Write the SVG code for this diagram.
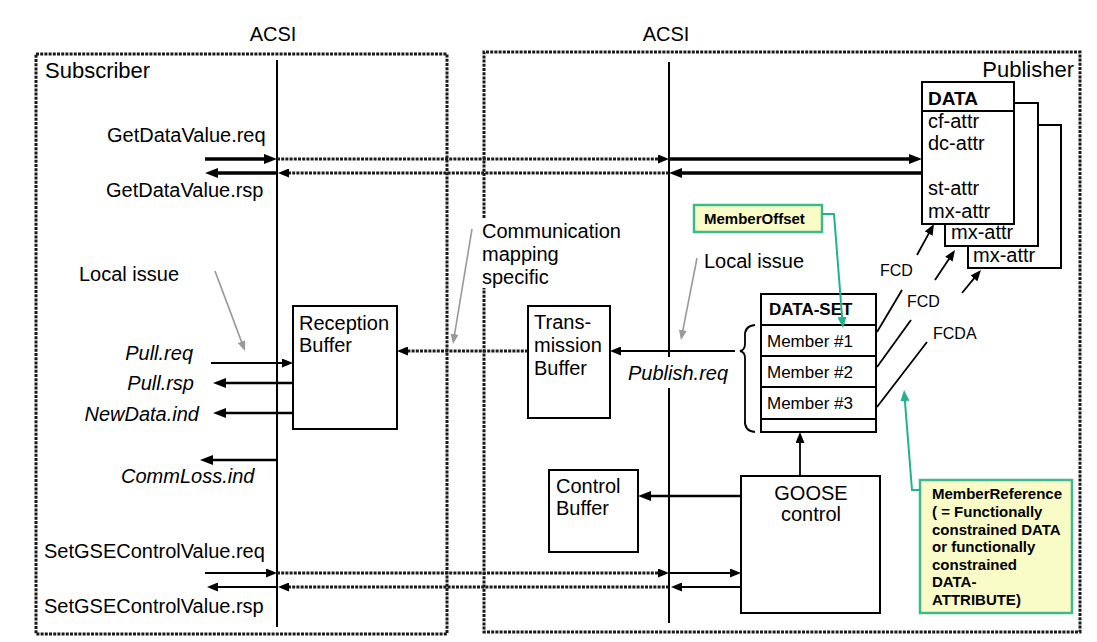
<svg xmlns="http://www.w3.org/2000/svg" width="1097" height="642" viewBox="0 0 1097 642">
<style>
.t{font-family:"Liberation Sans",Arial,sans-serif;font-size:20px;fill:#000}
.i{font-style:italic}
.b{font-weight:bold}
.s17{font-size:17px}
.s15{font-size:15px}
.s16{font-size:16px}
.s22{font-size:22px}
.mid{text-anchor:middle}
.end{text-anchor:end}
.box{fill:#fff;stroke:#000;stroke-width:2}
.note{fill:#fafcc8;stroke:#3cba8c;stroke-width:2.5}
.frame{fill:none;stroke:#1a1a1a;stroke-width:3;stroke-dasharray:3 1.2}
.dot{fill:none;stroke:#1a1a1a;stroke-width:3;stroke-dasharray:3 1.2}
.acsi{stroke:#000;stroke-width:2;fill:none}
.thick{stroke:#000;stroke-width:3.5;fill:none}
.med{stroke:#000;stroke-width:2.5;fill:none}
.thin{stroke:#000;stroke-width:1.8;fill:none}
.gray{stroke:#999;stroke-width:1.6;fill:none}
.green{stroke:#22b38a;stroke-width:2;fill:none}
</style>
<defs>
<marker id="ah" markerUnits="userSpaceOnUse" markerWidth="13" markerHeight="10" refX="5" refY="5" orient="auto"><path d="M0,0 L13,5 L0,10 z" fill="#000"/></marker>
<marker id="ahs" markerUnits="userSpaceOnUse" markerWidth="11" markerHeight="9" refX="4" refY="4.5" orient="auto"><path d="M0,0 L11,4.5 L0,9 z" fill="#000"/></marker>
<marker id="ahg" markerUnits="userSpaceOnUse" markerWidth="11" markerHeight="9" refX="4" refY="4.5" orient="auto"><path d="M0,0 L11,4.5 L0,9 z" fill="#22b38a"/></marker>
<marker id="ahgr" markerUnits="userSpaceOnUse" markerWidth="10" markerHeight="8" refX="3" refY="4" orient="auto"><path d="M0,0 L10,4 L0,8 z" fill="#999"/></marker>
</defs>
<rect width="1097" height="642" fill="#fff"/>

<g id="frames">
<rect class="frame" x="36" y="54" width="411" height="580"/>
<path class="frame" d="M484,218 L484,52 L1080,52 L1080,632 L484,632 L484,288"/>
<line class="acsi" x1="277" y1="60" x2="277" y2="627"/>
<line class="acsi" x1="669" y1="62" x2="669" y2="357"/>
<line class="acsi" x1="669" y1="388" x2="669" y2="623"/>
<text class="t mid" x="273" y="41">ACSI</text>
<text class="t mid" x="666" y="41">ACSI</text>
<text class="t s22" x="45" y="78">Subscriber</text>
<text class="t s22 end" x="1074" y="77">Publisher</text>
</g>

<g id="labels">
<text class="t" x="107" y="142">GetDataValue.req</text>
<text class="t" x="106" y="197">GetDataValue.rsp</text>
<text class="t" x="79" y="281">Local issue</text>
<text class="t i end" x="193" y="360">Pull.req</text>
<text class="t i end" x="194" y="390">Pull.rsp</text>
<text class="t i end" x="199" y="421">NewData.ind</text>
<text class="t i" x="121" y="483">CommLoss.ind</text>
<text class="t" x="44" y="558">SetGSEControlValue.req</text>
<text class="t" x="44" y="613">SetGSEControlValue.rsp</text>
<text class="t" x="482" y="238">Communication</text>
<text class="t" x="482" y="261">mapping</text>
<text class="t" x="482" y="284">specific</text>
<text class="t i" x="628" y="380">Publish.req</text>
<text class="t" x="704" y="268">Local issue</text>
<text class="t s16" x="880" y="276">FCD</text>
<text class="t s16" x="907" y="307">FCD</text>
<text class="t s16" x="933" y="339">FCDA</text>
</g>

<g id="reception-buffer">
<rect class="box" x="293" y="306" width="104" height="123"/>
<text class="t" x="299" y="330">Reception</text>
<text class="t" x="299" y="352">Buffer</text>
</g>

<g id="transmission-buffer">
<rect class="box" x="528" y="306" width="82" height="112"/>
<text class="t" x="534" y="329">Trans-</text>
<text class="t" x="534" y="352">mission</text>
<text class="t" x="534" y="375">Buffer</text>
</g>

<g id="control-buffer">
<rect class="box" x="549" y="470" width="89" height="82"/>
<text class="t" x="556" y="493">Control</text>
<text class="t" x="556" y="515">Buffer</text>
</g>

<g id="goose-control">
<rect class="box" x="741" y="476" width="139" height="137"/>
<text class="t mid" x="811" y="500">GOOSE</text>
<text class="t mid" x="811" y="521">control</text>
</g>

<g id="data-set">
<rect class="box" x="761" y="294" width="115" height="138"/>
<line class="thin" x1="761" y1="325" x2="876" y2="325"/>
<line class="thin" x1="761" y1="356" x2="876" y2="356"/>
<line class="thin" x1="761" y1="387" x2="876" y2="387"/>
<line class="thin" x1="761" y1="419" x2="876" y2="419"/>
<text class="t b s17" x="769" y="315">DATA-SET</text>
<text class="t s17" x="767" y="347">Member #1</text>
<text class="t s17" x="767" y="378">Member #2</text>
<text class="t s17" x="767" y="409">Member #3</text>
<path class="thin" d="M755,325 Q744,326 745,337 L745,344 Q745,350 740,351 Q745,352 745,358 L745,420 Q744,431 755,432"/>
</g>

<g id="data">
<rect class="box" x="968" y="125" width="93" height="143"/>
<text class="t" x="973" y="262">mx-attr</text>
<rect class="box" x="945" y="103" width="93" height="143"/>
<text class="t" x="951" y="239">mx-attr</text>
<rect class="box" x="922" y="82" width="92" height="142"/>
<line class="thin" x1="922" y1="111" x2="1014" y2="111"/>
<text class="t b" x="928" y="105" style="font-size:19px">DATA</text>
<text class="t" x="928" y="128">cf-attr</text>
<text class="t" x="928" y="150">dc-attr</text>
<text class="t" x="928" y="195">st-attr</text>
<text class="t" x="928" y="218">mx-attr</text>
</g>

<g id="member-offset">
<rect class="note" x="694" y="205" width="128" height="27"/>
<text class="t b s15" x="704" y="224">MemberOffset</text>
</g>

<g id="member-reference">
<rect class="note" x="920" y="480" width="152" height="133"/>
<text class="t b s15" x="932" y="499">MemberReference</text>
<text class="t b s15" x="932" y="517">( = Functionally</text>
<text class="t b s15" x="932" y="535">constrained DATA</text>
<text class="t b s15" x="932" y="552">or functionally</text>
<text class="t b s15" x="932" y="570">constrained</text>
<text class="t b s15" x="932" y="587">DATA-</text>
<text class="t b s15" x="932" y="605">ATTRIBUTE)</text>
</g>

<g id="connectors">
<line class="thick" x1="205" y1="159" x2="269" y2="159" marker-end="url(#ah)"/>
<line class="dot" x1="277" y1="159" x2="662" y2="159" marker-end="url(#ahs)"/>
<line class="thick" x1="669" y1="159" x2="914" y2="159" marker-end="url(#ah)"/>
<line class="thick" x1="922" y1="173" x2="677" y2="173" marker-end="url(#ah)"/>
<line class="dot" x1="669" y1="173" x2="285" y2="173" marker-end="url(#ahs)"/>
<line class="thick" x1="277" y1="173" x2="213" y2="173" marker-end="url(#ah)"/>
<line class="thin" x1="211" y1="363" x2="286" y2="363" marker-end="url(#ahs)"/>
<line class="med" x1="293" y1="383" x2="221" y2="383" marker-end="url(#ah)"/>
<line class="med" x1="293" y1="413" x2="221" y2="413" marker-end="url(#ah)"/>
<line class="med" x1="277" y1="460" x2="208" y2="460" marker-end="url(#ah)"/>
<line class="dot" x1="528" y1="351" x2="404" y2="351" marker-end="url(#ahs)"/>
<line class="thin" x1="735" y1="351" x2="617" y2="351" marker-end="url(#ahs)"/>
<line class="med" x1="741" y1="496" x2="646" y2="496" marker-end="url(#ah)"/>
<line class="thin" x1="800" y1="476" x2="800" y2="439" marker-end="url(#ahs)"/>
<line class="thin" x1="205" y1="573" x2="270" y2="573" marker-end="url(#ahs)"/>
<line class="dot" x1="277" y1="573" x2="662" y2="573" marker-end="url(#ahs)"/>
<line class="thin" x1="669" y1="573" x2="734" y2="573" marker-end="url(#ahs)"/>
<line class="thin" x1="741" y1="587" x2="678" y2="587" marker-end="url(#ahs)"/>
<line class="dot" x1="669" y1="587" x2="285" y2="587" marker-end="url(#ahs)"/>
<line class="thin" x1="277" y1="587" x2="214" y2="587" marker-end="url(#ahs)"/>
<line class="thin" x1="877" y1="332" x2="902" y2="290"/>
<line class="thin" x1="917" y1="255" x2="930.6" y2="230.1" marker-end="url(#ahs)"/>
<line class="thin" x1="877" y1="367" x2="911" y2="320"/>
<line class="thin" x1="935" y1="280" x2="951.1" y2="255.8" marker-end="url(#ahs)"/>
<line class="thin" x1="877" y1="407" x2="927" y2="342"/>
<line class="thin" x1="962" y1="293" x2="976.5" y2="275.4" marker-end="url(#ahs)"/>
<line class="gray" x1="215" y1="271" x2="242.5" y2="344.4" marker-end="url(#ahgr)"/>
<line class="gray" x1="472" y1="229" x2="454.1" y2="337.1" marker-end="url(#ahgr)"/>
<line class="gray" x1="697" y1="258" x2="682.3" y2="333.1" marker-end="url(#ahgr)"/>
<polyline class="green" points="822,214 834,214 842.4,321" marker-end="url(#ahg)"/>
<polyline class="green" points="920,490 912,490 904.6,397" marker-end="url(#ahg)"/>
</g>
</svg>
